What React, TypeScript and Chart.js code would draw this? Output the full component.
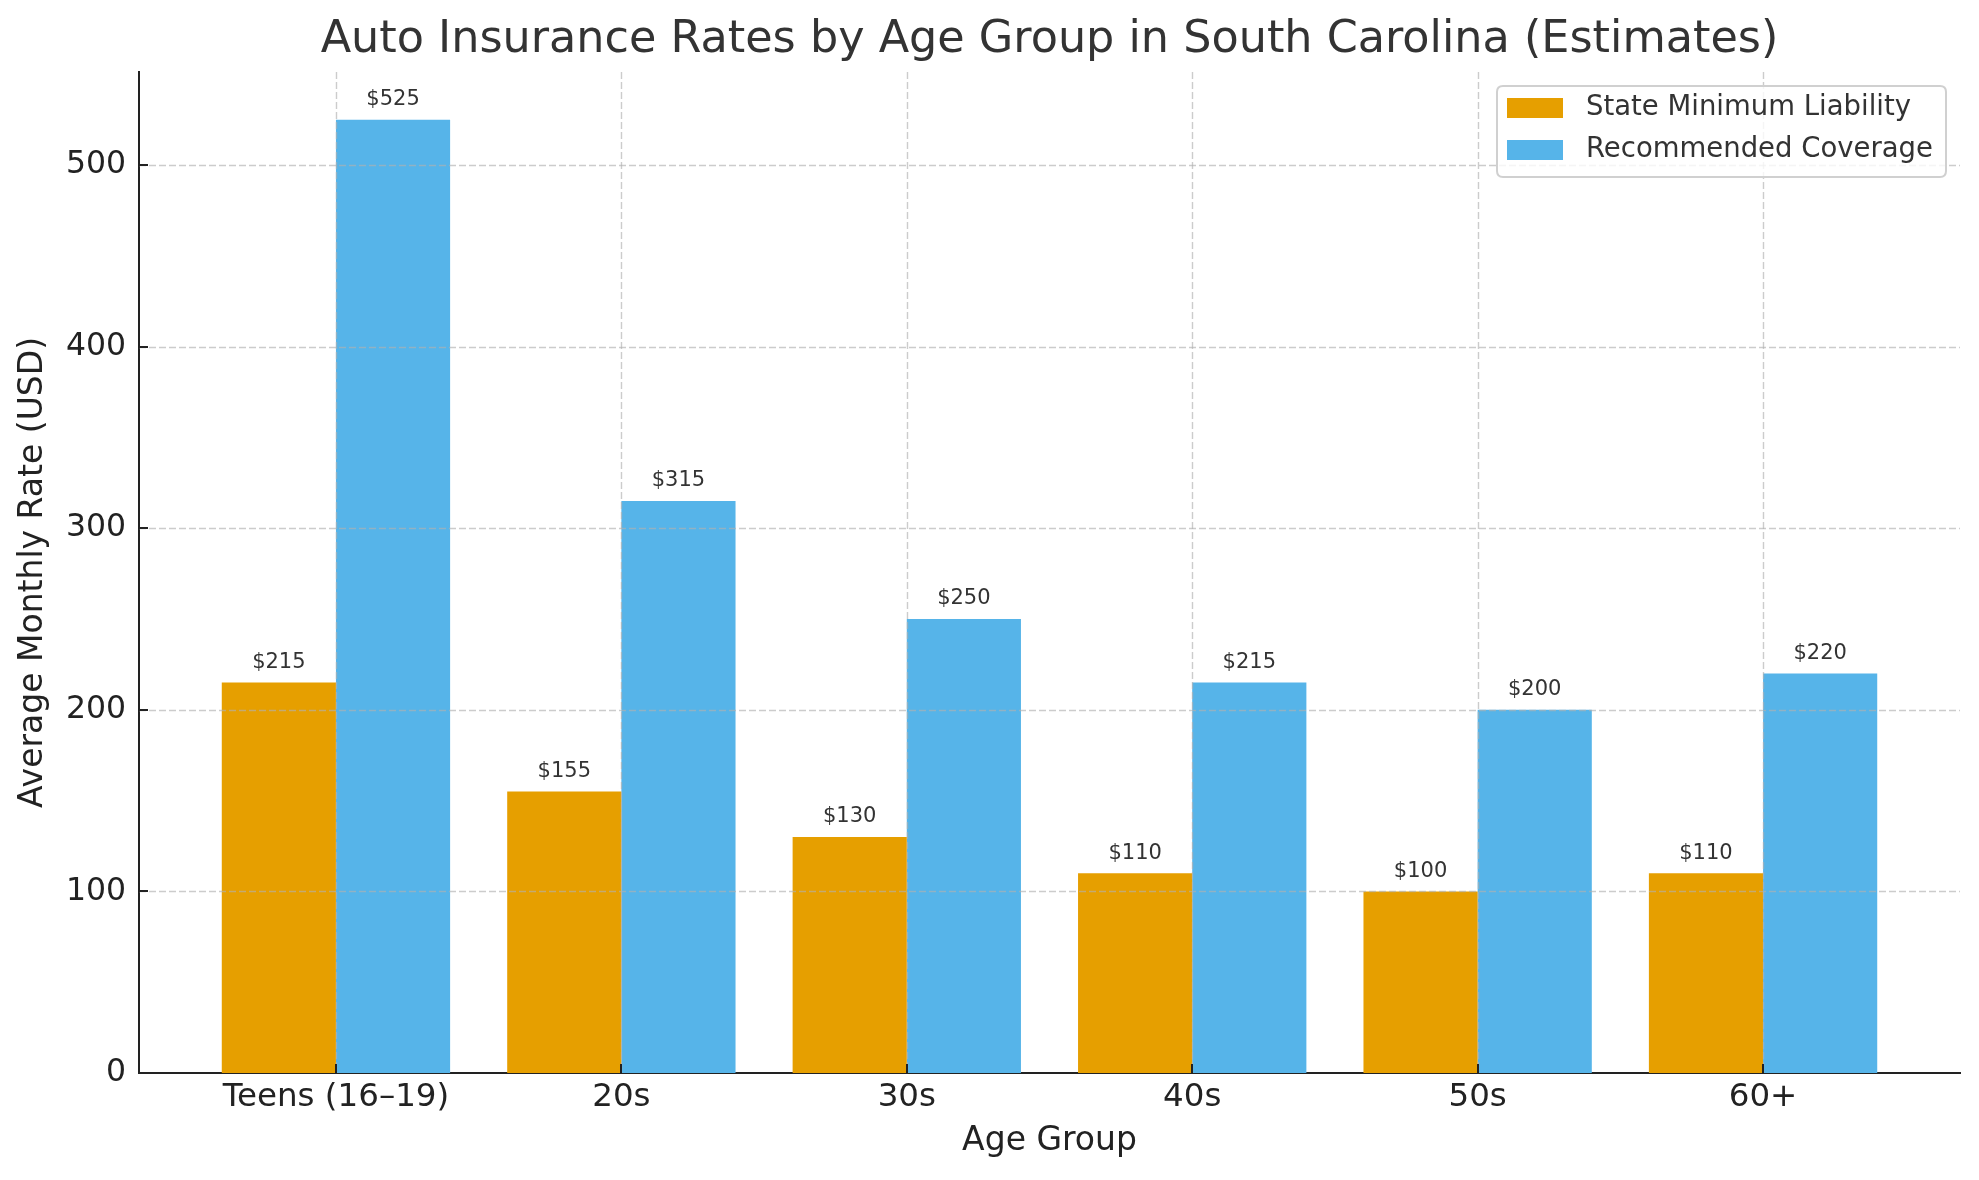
import React, { useEffect, useRef } from 'react';
import { Chart, registerables } from 'chart.js';

Chart.register(...registerables);

const categories = ['Teens (16–19)', '20s', '30s', '40s', '50s', '60+'];
const stateMinimum = [215, 155, 130, 110, 100, 110];
const recommended = [525, 315, 250, 215, 200, 220];
const yTicks = [0, 100, 200, 300, 400, 500];
const seriesLabels = ['State Minimum Liability', 'Recommended Coverage'];
const seriesColors = ['#E69F00', '#56B4E9'];
const titleText = 'Auto Insurance Rates by Age Group in South Carolina (Estimates)';
const xTitle = 'Age Group';
const yTitle = 'Average Monthly Rate (USD)';

const FONT = "'DejaVu Sans', sans-serif";

const gridPlugin = {
  id: 'gridOverlay',
  afterDatasetsDraw(chart: any) {
    const { ctx, chartArea, scales } = chart;
    const x = scales.x;
    const y = scales.y;
    ctx.save();
    ctx.strokeStyle = 'rgba(176,176,176,0.65)';
    ctx.lineWidth = 1.4;
    ctx.setLineDash([7, 3]);
    categories.forEach((_, i) => {
      const px = Math.round(x.getPixelForValue(i)) + 0.5;
      ctx.beginPath();
      ctx.moveTo(px, chartArea.top);
      ctx.lineTo(px, chartArea.bottom);
      ctx.stroke();
    });
    yTicks.forEach((v) => {
      if (v === 0) return;
      const py = Math.round(y.getPixelForValue(v)) + 0.5;
      ctx.beginPath();
      ctx.moveTo(chartArea.left, py);
      ctx.lineTo(chartArea.right, py);
      ctx.stroke();
    });
    ctx.setLineDash([]);
    // inward tick marks
    ctx.strokeStyle = '#222';
    ctx.lineWidth = 2;
    categories.forEach((_, i) => {
      const px = Math.round(x.getPixelForValue(i));
      ctx.beginPath();
      ctx.moveTo(px, chartArea.bottom);
      ctx.lineTo(px, chartArea.bottom - 9);
      ctx.stroke();
    });
    yTicks.forEach((v) => {
      const py = Math.round(y.getPixelForValue(v));
      ctx.beginPath();
      ctx.moveTo(chartArea.left, py);
      ctx.lineTo(chartArea.left + 9, py);
      ctx.stroke();
    });
    ctx.restore();
  },
};

const valueLabelPlugin = {
  id: 'valueLabels',
  afterDatasetsDraw(chart: any) {
    const { ctx } = chart;
    ctx.save();
    ctx.font = `21px ${FONT}`;
    ctx.fillStyle = '#333';
    ctx.textAlign = 'center';
    ctx.textBaseline = 'middle';
    chart.data.datasets.forEach((ds: any, di: number) => {
      const meta = chart.getDatasetMeta(di);
      meta.data.forEach((bar: any, i: number) => {
        const v = ds.data[i].y;
        ctx.fillText(`$${v}`, bar.x, bar.y - 20);
      });
    });
    ctx.restore();
  },
};

const legendTitlePlugin = {
  id: 'legendTitle',
  afterDraw(chart: any) {
    const { ctx, chartArea } = chart;
    ctx.save();
    // title
    ctx.font = `44.5px ${FONT}`;
    ctx.fillStyle = '#333';
    ctx.textAlign = 'center';
    ctx.textBaseline = 'middle';
    ctx.fillText(titleText, (chartArea.left + chartArea.right) / 2, 40);

    // legend box
    const bx = 1497, by = 86, bw = 449, bh = 91, r = 6;
    ctx.beginPath();
    ctx.moveTo(bx + r, by);
    ctx.lineTo(bx + bw - r, by);
    ctx.quadraticCurveTo(bx + bw, by, bx + bw, by + r);
    ctx.lineTo(bx + bw, by + bh - r);
    ctx.quadraticCurveTo(bx + bw, by + bh, bx + bw - r, by + bh);
    ctx.lineTo(bx + r, by + bh);
    ctx.quadraticCurveTo(bx, by + bh, bx, by + bh - r);
    ctx.lineTo(bx, by + r);
    ctx.quadraticCurveTo(bx, by, bx + r, by);
    ctx.closePath();
    ctx.fillStyle = 'rgba(255,255,255,0.8)';
    ctx.fill();
    ctx.strokeStyle = '#d0d0d0';
    ctx.lineWidth = 2;
    ctx.stroke();

    ctx.font = `27.5px ${FONT}`;
    ctx.textAlign = 'left';
    ctx.textBaseline = 'middle';
    seriesLabels.forEach((label, i) => {
      const cy = 108 + i * 42;
      ctx.fillStyle = seriesColors[i];
      ctx.fillRect(1507, cy - 10, 56, 20);
      ctx.fillStyle = '#333';
      ctx.fillText(label, 1586, cy);
    });
    ctx.restore();
  },
};

export default function App() {
  const canvasRef = useRef<HTMLCanvasElement | null>(null);

  useEffect(() => {
    if (!canvasRef.current) return;
    const chart = new Chart(canvasRef.current, {
      type: 'bar',
      data: {
        datasets: [
          {
            label: seriesLabels[0],
            data: categories.map((_, i) => ({ x: i, y: stateMinimum[i] })),
            backgroundColor: seriesColors[0],
            borderWidth: 0,
            categoryPercentage: 0.8,
            barPercentage: 1.0,
          },
          {
            label: seriesLabels[1],
            data: categories.map((_, i) => ({ x: i, y: recommended[i] })),
            backgroundColor: seriesColors[1],
            borderWidth: 0,
            categoryPercentage: 0.8,
            barPercentage: 1.0,
          },
        ],
      } as any,
      options: {
        animation: false,
        responsive: true,
        maintainAspectRatio: false,
        devicePixelRatio: 1,
        layout: { padding: { top: 72, right: 19, left: 0, bottom: 0 } },
        plugins: {
          legend: { display: false },
          title: { display: false },
          tooltip: { enabled: false },
        },
        scales: {
          x: {
            type: 'linear',
            min: -0.69,
            max: 5.69,
            offset: false,
            afterBuildTicks: (scale: any) => {
              scale.ticks = categories.map((_, i) => ({ value: i }));
            },
            afterFit: (scale: any) => {
              scale.height = 107;
            },
            grid: { display: false, drawTicks: false, offset: false },
            border: { display: true, color: '#222', width: 2 },
            ticks: {
              autoSkip: false,
              maxRotation: 0,
              padding: 5,
              color: '#222',
              font: { family: FONT, size: 32.5 },
              callback: (value: any) => categories[value as number] ?? '',
            },
            title: {
              display: true,
              text: xTitle,
              color: '#222',
              font: { family: FONT, size: 33 },
              padding: { top: 0, bottom: 19 },
            },
          },
          y: {
            type: 'linear',
            min: 0,
            max: 551.25,
            afterBuildTicks: (scale: any) => {
              scale.ticks = yTicks.map((v) => ({ value: v }));
            },
            afterFit: (scale: any) => {
              scale.width = 139;
            },
            grid: { display: false, drawTicks: false },
            border: { display: true, color: '#222', width: 2 },
            ticks: {
              padding: 13,
              color: '#222',
              font: { family: FONT, size: 31.5 },
            },
            title: {
              display: true,
              text: yTitle,
              color: '#222',
              font: { family: FONT, size: 33 },
              padding: { top: 14, bottom: 0 },
            },
          },
        },
      } as any,
      plugins: [gridPlugin, valueLabelPlugin, legendTitlePlugin],
    });
    return () => chart.destroy();
  }, []);

  return (
    <div style={{ position: 'absolute', left: 0, top: 0, width: 1979, height: 1180, background: '#fff' }}>
      <canvas ref={canvasRef} />
    </div>
  );
}
